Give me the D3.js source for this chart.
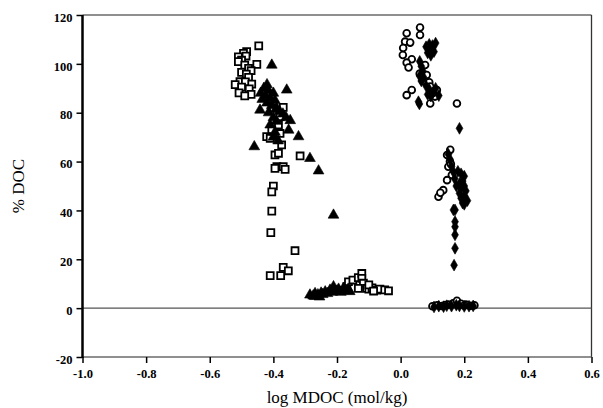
<!DOCTYPE html>
<html>
<head>
<meta charset="utf-8">
<script src="https://cdn.jsdelivr.net/npm/d3@7"></script>
<style>
  html, body { margin: 0; padding: 0; background: #fff; }
  svg { display: block; }
  .title { font-family: "Liberation Serif", "Times New Roman", serif; font-size: 17px; fill: #000; }
</style>
</head>
<body>
<svg id="chart" width="603" height="408"></svg>
<script>
// Axis settings
const xDomain = [-1.0, 0.6];
const yDomain = [-20, 120];
const xTicks = [-1.0, -0.8, -0.6, -0.4, -0.2, 0.0, 0.2, 0.4, 0.6];
const yTicks = [-20, 0, 20, 40, 60, 80, 100, 120];

// Open squares: [log MDOC, % DOC]
const squares = [
  [-0.446,107.4],[-0.484,105],[-0.494,104.3],[-0.486,103.2],[-0.51,102.9],[-0.5,101.5],
  [-0.51,100.9],[-0.452,99.8],[-0.49,99.5],[-0.478,98.2],[-0.47,97.2],[-0.5,96.5],
  [-0.485,95.8],[-0.478,94.5],[-0.505,92.7],[-0.488,92.6],[-0.468,91.7],[-0.52,91.5],
  [-0.5,90.5],[-0.476,89.8],[-0.508,88.1],[-0.47,87.5],[-0.49,86.9],
  [-0.4,81.8],[-0.369,82.2],[-0.379,78.4],[-0.384,75],[-0.405,72.9],[-0.421,70.2],
  [-0.41,69.5],[-0.379,71.5],[-0.374,66.8],[-0.395,62.7],[-0.384,63.4],[-0.316,62.3],
  [-0.389,57.9],[-0.369,57.9],[-0.395,57.2],[-0.363,56.8],[-0.4,50],[-0.405,47.6],
  [-0.405,39.7],[-0.408,30.9],[-0.332,23.5],[-0.369,16.7],[-0.353,15.3],[-0.41,13.3],
  [-0.377,13.3],
  [-0.169,8.8],[-0.164,10.8],[-0.15,11.5],[-0.133,12.5],[-0.122,14.2],[-0.122,12.2],
  [-0.117,10.2],[-0.133,8.1],[-0.107,8.1],[-0.1,7.8],[-0.09,8.3],[-0.075,7.4],
  [-0.065,7.8],[-0.05,7.5],[-0.038,7.1],[-0.1,9.5],[-0.085,7.0]
];

// Filled triangles
const triangles = [
  [-0.405,99.5],[-0.358,89.3],[-0.442,81.1],[-0.347,76.8],[-0.352,72.9],[-0.321,70.2],
  [-0.46,66.1],[-0.285,61.3],[-0.258,56.2],[-0.211,38.1],
  [-0.43,90],[-0.42,91.5],[-0.415,89],[-0.44,88],[-0.425,87],[-0.41,86],[-0.435,85.5],
  [-0.4,88],[-0.395,85],[-0.42,84],[-0.405,83],[-0.39,82],[-0.38,80.5],[-0.37,79.5],
  [-0.36,78],[-0.415,80],[-0.4,78],[-0.39,76.5],[-0.41,75],[-0.395,72],[-0.4,70],
  [-0.385,68.5],
  [-0.285,5.4],[-0.275,5.0],[-0.269,6.0],[-0.26,5.5],[-0.25,6.2],[-0.245,5.6],
  [-0.237,6.7],[-0.23,6.0],[-0.222,7.4],[-0.215,6.5],[-0.211,8.8],[-0.2,7.0],
  [-0.195,7.8],[-0.188,6.5],[-0.18,8.1],[-0.175,7.2],[-0.165,7.8],[-0.16,6.8],
  [-0.27,4.8],[-0.255,4.6]
];

// Open circles
const circles = [
  [0.061,114.9],[0.061,111.8],[0.019,112.5],[0.014,109.1],[0.03,108.7],[0.008,106.5],
  [0.007,103.6],[0.035,101.9],[0.019,100.5],[0.025,98.5],[0.077,99.5],[0.082,95.4],
  [0.07,93],[0.09,92.5],[0.035,89.3],[0.019,87.2],[0.093,90.7],[0.114,89.3],
  [0.108,86.6],[0.093,83.8],[0.177,83.8],[0.1,88],[0.06,96],
  [0.156,64.8],[0.146,62.7],[0.155,60],[0.15,57.9],[0.161,54.5],[0.146,52.4],
  [0.134,48.3],[0.119,45.6],[0.125,47.2],[0.158,59],
  [0.1,0.8],[0.115,1.2],[0.13,0.9],[0.15,1.5],[0.165,2.0],[0.177,3.0],[0.19,1.8],
  [0.205,1.5],[0.22,1.0],[0.232,1.2],[0.14,1.3],[0.2,1.1]
];

// Filled diamonds
const diamonds = [
  [0.08,107],[0.09,108],[0.095,106],[0.1,107.5],[0.105,105],[0.085,104.5],[0.095,103.5],
  [0.11,108.5],[0.06,101],[0.065,99],[0.07,97],[0.06,95],[0.065,93],[0.072,94.5],
  [0.08,91],[0.09,89.5],[0.1,88],[0.11,90],[0.095,86.8],[0.085,87.5],[0.12,87],
  [0.056,84.5],[0.059,83.6],
  [0.185,73.6],[0.18,56],[0.19,55],[0.2,54],[0.195,52],[0.185,51],[0.2,50],[0.19,49],
  [0.205,48],[0.2,46],[0.19,45],[0.21,44],[0.195,43],[0.185,47],[0.175,50],[0.17,53],
  [0.2,42.5],[0.171,40.2],[0.166,40.2],[0.171,35.4],[0.171,33.3],[0.171,30],
  [0.171,24.5],[0.168,17.6],[0.15,63],[0.155,61],[0.16,58],[0.165,56],
  [0.105,0.5],[0.12,0.8],[0.135,0.6],[0.145,1.0],[0.16,0.8],[0.175,1.2],[0.185,0.9],
  [0.2,0.7],[0.215,0.8],[0.228,0.9]
];

const svg = d3.select("#chart");
const plotL = 82.5, plotR = 591.5, plotT = 15, plotB = 357;

const x = d3.scaleLinear().domain(xDomain).range([plotL, plotR]);
const y = d3.scaleLinear().domain(yDomain).range([plotB, plotT]);

// Frame: thin grey top/right/bottom, heavy black left axis
svg.append("line").attr("x1", plotL).attr("x2", plotR).attr("y1", plotT).attr("y2", plotT)
  .attr("stroke", "#6a6a6a").attr("stroke-width", 1.5);
svg.append("line").attr("x1", plotR).attr("x2", plotR).attr("y1", plotT).attr("y2", plotB)
  .attr("stroke", "#333").attr("stroke-width", 1.3);
svg.append("line").attr("x1", plotL).attr("x2", plotR).attr("y1", plotB).attr("y2", plotB)
  .attr("stroke", "#6a6a6a").attr("stroke-width", 1.5);

// Zero reference line
svg.append("line").attr("x1", plotL).attr("x2", plotR).attr("y1", y(0)).attr("y2", y(0))
  .attr("stroke", "#555").attr("stroke-width", 1.2);

// Axes
const fmtX = d3.format(".1f");
const xAxis = d3.axisBottom(x).tickValues(xTicks).tickFormat(d => fmtX(d).replace("−", "-"))
  .tickSize(6).tickPadding(6);
const gx = svg.append("g").attr("transform", `translate(0,${plotB})`).call(xAxis);
gx.select(".domain").remove();
gx.selectAll(".tick line").attr("stroke", "#000").attr("stroke-width", 1.5);

const yAxis = d3.axisLeft(y).tickValues(yTicks).tickFormat(d => String(d))
  .tickSize(6).tickPadding(4);
const gy = svg.append("g").attr("transform", `translate(${plotL},0)`).call(yAxis);
gy.select(".domain").remove();
gy.selectAll(".tick line").attr("stroke", "#000").attr("stroke-width", 1.5);
gy.selectAll(".tick text").attr("dy", "0.5em");

[gx, gy].forEach(g => g.attr("font-family", null).attr("font-size", null)
  .selectAll(".tick text")
  .style("font-family", "'Liberation Serif', 'Times New Roman', serif")
  .style("font-weight", "bold")
  .style("font-size", "12.5px")
  .style("fill", "#000"));

svg.append("line").attr("x1", plotL).attr("x2", plotL).attr("y1", plotT).attr("y2", plotB + 1)
  .attr("stroke", "#000").attr("stroke-width", 2.5);

// Marker series
function drawSeries(data, type, size, filled) {
  const sym = d3.symbol().type(type).size(size);
  svg.append("g").selectAll("path").data(data).join("path")
    .attr("transform", d => `translate(${x(d[0])},${y(d[1])})`)
    .attr("d", sym)
    .attr("fill", filled ? "#000" : "#fff")
    .attr("stroke", "#000")
    .attr("stroke-width", filled ? 0.6 : 1.8);
}
drawSeries(squares, d3.symbolSquare, 48, false);
drawSeries(triangles, d3.symbolTriangle, 50, true);
drawSeries(circles, d3.symbolCircle, 36, false);
drawSeries(diamonds, d3.symbolDiamond, 40, true);

// Axis titles
svg.append("text").attr("class", "title")
  .attr("x", (plotL + plotR) / 2).attr("y", 403).attr("text-anchor", "middle")
  .text("log MDOC (mol/kg)");
svg.append("text").attr("class", "title")
  .attr("transform", `translate(24,${(plotT + plotB) / 2}) rotate(-90)`)
  .attr("text-anchor", "middle")
  .text("% DOC");
</script>
</body>
</html>
